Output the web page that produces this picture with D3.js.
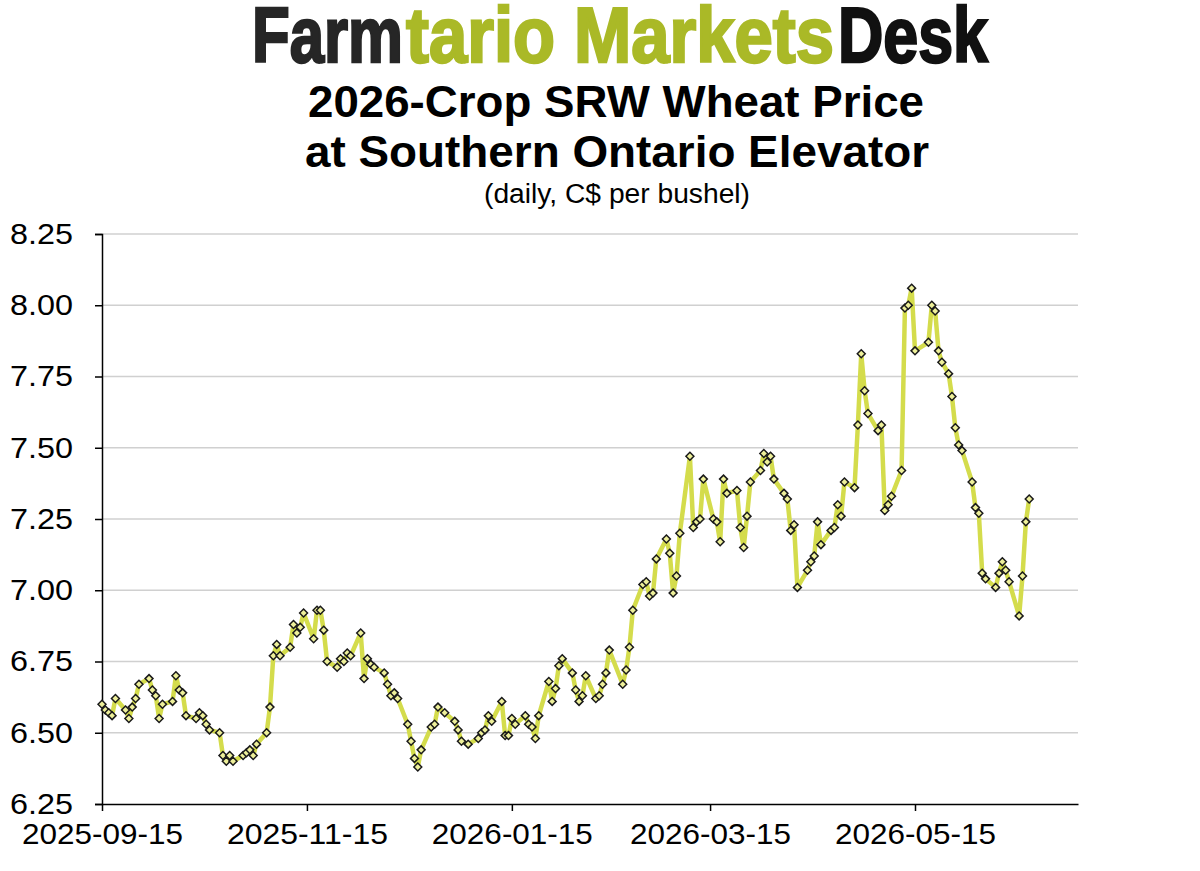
<!DOCTYPE html>
<html><head><meta charset="utf-8">
<script src="https://cdn.jsdelivr.net/npm/d3@7"></script>
<style>body{margin:0;background:#fff}svg{display:block}</style>
</head><body>
<script>
const dates = [
"2025-09-15","2025-09-16","2025-09-17","2025-09-18","2025-09-19",
"2025-09-22","2025-09-23","2025-09-24","2025-09-25","2025-09-26",
"2025-09-29","2025-09-30","2025-10-01","2025-10-02","2025-10-03",
"2025-10-06","2025-10-07","2025-10-08","2025-10-09","2025-10-10",
"2025-10-13","2025-10-14","2025-10-15","2025-10-16","2025-10-17",
"2025-10-20","2025-10-21","2025-10-22","2025-10-23","2025-10-24",
"2025-10-27","2025-10-28","2025-10-29","2025-10-30","2025-10-31",
"2025-11-03","2025-11-04","2025-11-05","2025-11-06","2025-11-07",
"2025-11-10","2025-11-11","2025-11-12","2025-11-13","2025-11-14",
"2025-11-17","2025-11-18","2025-11-19","2025-11-20","2025-11-21",
"2025-11-24","2025-11-25","2025-11-26","2025-11-27","2025-11-28",
"2025-12-01","2025-12-02","2025-12-03","2025-12-04","2025-12-05",
"2025-12-08","2025-12-09","2025-12-10","2025-12-11","2025-12-12",
"2025-12-15","2025-12-16","2025-12-17","2025-12-18","2025-12-19",
"2025-12-22","2025-12-23","2025-12-24","2025-12-26",
"2025-12-29","2025-12-30","2025-12-31","2026-01-02",
"2026-01-05","2026-01-06","2026-01-07","2026-01-08","2026-01-09",
"2026-01-12","2026-01-13","2026-01-14","2026-01-15","2026-01-16",
"2026-01-19","2026-01-20","2026-01-21","2026-01-22","2026-01-23",
"2026-01-26","2026-01-27","2026-01-28","2026-01-29","2026-01-30",
"2026-02-02","2026-02-03","2026-02-04","2026-02-05","2026-02-06",
"2026-02-09","2026-02-10","2026-02-11","2026-02-12","2026-02-13",
"2026-02-17","2026-02-18","2026-02-19","2026-02-20",
"2026-02-23","2026-02-24","2026-02-25","2026-02-26","2026-02-27",
"2026-03-02","2026-03-03","2026-03-04","2026-03-05","2026-03-06",
"2026-03-09","2026-03-10","2026-03-11","2026-03-12","2026-03-13",
"2026-03-16","2026-03-17","2026-03-18","2026-03-19","2026-03-20",
"2026-03-23","2026-03-24","2026-03-25","2026-03-26","2026-03-27",
"2026-03-30","2026-03-31","2026-04-01","2026-04-02","2026-04-03",
"2026-04-06","2026-04-07","2026-04-08","2026-04-09","2026-04-10",
"2026-04-13","2026-04-14","2026-04-15","2026-04-16","2026-04-17",
"2026-04-20","2026-04-21","2026-04-22","2026-04-23","2026-04-24",
"2026-04-27","2026-04-28","2026-04-29","2026-04-30","2026-05-01",
"2026-05-04","2026-05-05","2026-05-06","2026-05-07","2026-05-08",
"2026-05-11","2026-05-12","2026-05-13","2026-05-14","2026-05-15",
"2026-05-19","2026-05-20","2026-05-21","2026-05-22","2026-05-23",
"2026-05-25","2026-05-26","2026-05-27","2026-05-28","2026-05-29",
"2026-06-01","2026-06-02","2026-06-03","2026-06-04","2026-06-05",
"2026-06-08","2026-06-09","2026-06-10","2026-06-11","2026-06-12",
"2026-06-15","2026-06-16","2026-06-17","2026-06-18"
];
const prices = [
6.60,6.58,6.57,6.56,6.62,
6.58,6.55,6.59,6.62,6.67,
6.69,6.65,6.63,6.55,6.60,
6.61,6.70,6.65,6.64,6.56,
6.55,6.57,6.56,6.53,6.51,
6.50,6.42,6.40,6.42,6.40,
6.42,6.43,6.44,6.42,6.46,
6.50,6.59,6.77,6.81,6.77,
6.80,6.88,6.85,6.87,6.92,
6.83,6.93,6.93,6.86,6.75,
6.73,6.76,6.75,6.78,6.77,
6.85,6.69,6.76,6.74,6.73,
6.71,6.67,6.63,6.64,6.62,
6.53,6.47,6.41,6.38,6.44,
6.52,6.53,6.59,6.57,
6.54,6.51,6.47,6.46,
6.48,6.50,6.51,6.56,6.54,
6.61,6.49,6.49,6.55,6.53,
6.56,6.53,6.52,6.48,6.56,
6.68,6.61,6.655,6.735,6.76,
6.71,6.65,6.61,6.63,6.70,
6.62,6.63,6.67,6.71,6.79,
6.67,6.72,6.80,6.93,
7.02,7.03,6.98,6.99,7.11,
7.18,7.13,6.99,7.05,7.20,
7.47,7.22,7.24,7.25,7.39,
7.25,7.24,7.17,7.39,7.34,
7.35,7.22,7.15,7.26,7.38,
7.42,7.48,7.45,7.47,7.39,
7.34,7.32,7.21,7.23,7.01,
7.07,7.10,7.12,7.24,7.16,
7.21,7.22,7.30,7.26,7.38,
7.36,7.58,7.83,7.70,7.62,
7.56,7.58,7.28,7.30,7.33,
7.42,7.99,8.00,8.06,7.84,
7.87,8.00,7.98,7.84,7.80,
7.76,7.68,7.57,7.51,7.49,
7.38,7.29,7.27,7.06,7.04,
7.01,7.06,7.10,7.07,7.03,
6.91,7.05,7.24,7.32
];
const yTicks = [6.25,6.50,6.75,7.00,7.25,7.50,7.75,8.00,8.25];
const xTickLabels = ["2025-09-15","2025-11-15","2026-01-15","2026-03-15","2026-05-15"];
const logoParts = [
  {text:"Farm", color:"#262626", x0:252, x1:403},
  {text:"tario Markets", color:"#aab927", x0:406, x1:834},
  {text:"Desk", color:"#111111", x0:838, x1:988}
];

const W=1200,H=871, L=102, R=1078, T=234, B=804;
const parse=d3.utcParse("%Y-%m-%d");
const data=dates.map((d,i)=>({date:parse(d),v:prices[i]}));
const x0=d3.scaleUtc().domain([parse("2025-09-15"),parse("2026-05-15")]).range([L,915]);
const x=d3.scaleUtc().domain([x0.invert(L),x0.invert(R)]).range([L,R]);
const y=d3.scaleLinear().domain([6.25,8.25]).range([B,T]);

const svg=d3.select("body").append("svg").attr("width",W).attr("height",H);

// logo (vertically stretched condensed type)
svg.append("g").selectAll("text").data(logoParts).join("text")
  .attr("transform",d=>`translate(${d.x0},62) scale(1,1.12)`)
  .attr("font-family","'Liberation Sans Narrow','Liberation Sans',Arial,sans-serif")
  .attr("font-weight","bold").attr("font-size",70)
  .attr("fill",d=>d.color).attr("stroke",d=>d.color).attr("stroke-width",2.2)
  .attr("textLength",d=>d.x1-d.x0).attr("lengthAdjust","spacingAndGlyphs")
  .style("white-space","pre").text(d=>d.text);

const tf="'Liberation Sans',Arial,sans-serif";
svg.append("text").attr("x",616).attr("y",117).attr("text-anchor","middle").attr("font-family",tf).attr("font-weight","bold").attr("font-size",44)
  .attr("textLength",616).attr("lengthAdjust","spacingAndGlyphs").text("2026-Crop SRW Wheat Price");
svg.append("text").attr("x",617).attr("y",167).attr("text-anchor","middle").attr("font-family",tf).attr("font-weight","bold").attr("font-size",44)
  .attr("textLength",624).attr("lengthAdjust","spacingAndGlyphs").text("at Southern Ontario Elevator");
svg.append("text").attr("x",617).attr("y",203).attr("text-anchor","middle").attr("font-family",tf).attr("font-size",27)
  .attr("textLength",266).attr("lengthAdjust","spacingAndGlyphs").text("(daily, C$ per bushel)");

// grid
svg.append("g").selectAll("line").data(yTicks.slice(1)).join("line")
  .attr("x1",L).attr("x2",R).attr("y1",d=>y(d)).attr("y2",d=>y(d))
  .attr("stroke","#d0d0d0").attr("stroke-width",1.5);

// y axis
const ya=svg.append("g").attr("transform",`translate(${L},0)`)
  .call(d3.axisLeft(y).tickValues(yTicks).tickFormat(d3.format(".2f")).tickSize(7).tickPadding(22));
ya.select(".domain").attr("stroke","#000").attr("stroke-width",1.5);
ya.selectAll("line").attr("stroke","#000").attr("stroke-width",1.5);
ya.selectAll("text").attr("font-family",tf).attr("font-size",29).attr("fill","#000")
  .attr("textLength",63).attr("lengthAdjust","spacingAndGlyphs");

// x axis
const xa=svg.append("g").attr("transform",`translate(0,${B})`)
  .call(d3.axisBottom(x).tickValues(xTickLabels.map(parse)).tickFormat(d3.utcFormat("%Y-%m-%d")).tickSize(7).tickPadding(12).tickSizeOuter(0));
xa.select(".domain").attr("stroke","#000").attr("stroke-width",1.5);
xa.selectAll("line").attr("stroke","#000").attr("stroke-width",1.5);
xa.selectAll("text").attr("font-family",tf).attr("font-size",29).attr("fill","#000")
  .attr("textLength",161).attr("lengthAdjust","spacingAndGlyphs");

// line
svg.append("path").datum(data)
  .attr("d",d3.line().x(d=>x(d.date)).y(d=>y(d.v)))
  .attr("fill","none").attr("stroke","#d4dc4c").attr("stroke-width",4.5).attr("stroke-linejoin","round");

// markers
const sym=d3.symbol().type(d3.symbolDiamond2).size(40);
svg.append("g").selectAll("path").data(data).join("path")
  .attr("transform",d=>`translate(${x(d.date)},${y(d.v)})`)
  .attr("d",sym).attr("fill","#eef09a").attr("stroke","#1a1a1a").attr("stroke-width",1.5);
</script>
</body></html>
